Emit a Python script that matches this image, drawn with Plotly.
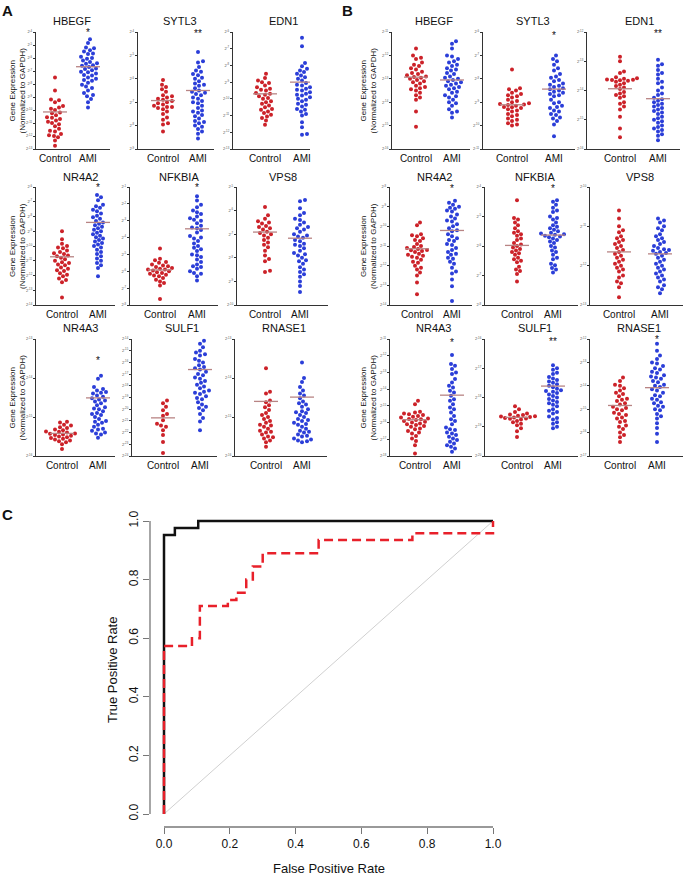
import plotly.graph_objects as go

W, H = 685, 875
FONT = "Liberation Sans, Arial, sans-serif"
RED = "#cc2229"
BLUE = "#2b3ed8"
MEAN_COL = "#b88484"

# ---- gene expression values (log2 units above the lowest tick of each panel) ----
# panel A
a_hbegf_ctrl = [5.5, 4.5, 3.8, 3.75, 3.6, 3.3, 3.2, 3.1, 3.0, 2.8, 2.75, 2.6, 2.45, 2.4, 2.3, 2.2, 2.1, 2.0, 1.9, 1.75, 1.55, 1.4, 1.35, 1.15, 1.05, 1.0, 0.9, 0.65, 0.25]
a_hbegf_ami = [8.45, 8.15, 7.8, 7.75, 7.6, 7.5, 7.35, 7.3, 7.1, 7.0, 6.95, 6.8, 6.7, 6.6, 6.55, 6.45, 6.4, 6.3, 6.2, 6.15, 6.05, 5.95, 5.9, 5.8, 5.7, 5.65, 5.5, 5.4, 5.3, 5.25, 5.1, 4.95, 4.8, 4.7, 4.5, 4.3, 4.15, 4.05, 3.85, 3.6, 3.2]
a_sytl3_ctrl = [2.95, 2.75, 2.65, 2.55, 2.45, 2.3, 2.25, 2.2, 2.15, 2.1, 2.05, 2.0, 1.95, 1.9, 1.85, 1.8, 1.8, 1.75, 1.7, 1.6, 1.5, 1.35, 1.25, 1.1, 1.05, 0.75]
a_sytl3_ami = [4.15, 3.75, 3.7, 3.35, 3.3, 3.15, 3.05, 3.0, 2.9, 2.8, 2.7, 2.6, 2.5, 2.45, 2.35, 2.3, 2.2, 2.15, 2.05, 1.95, 1.85, 1.75, 1.65, 1.55, 1.45, 1.3, 1.2, 1.1, 1.0, 0.95, 0.85, 0.65, 0.45,
               3.5, 3.2, 2.75, 2.4, 2.0, 1.6, 1.4, 1.15, 0.75]
a_edn1_ctrl = [4.5, 4.25, 4.1, 3.95, 3.8, 3.7, 3.6, 3.5, 3.35, 3.25, 3.15, 3.0, 2.85, 2.7, 2.6, 2.5, 2.35, 2.25, 2.15, 1.95, 1.85, 1.7, 1.45,
               4.0, 3.55, 3.3, 3.05, 2.8, 2.4, 2.05]
a_edn1_ami = [6.65, 6.15, 5.15, 4.95, 4.7, 4.6, 4.5, 4.3, 4.2, 4.1, 4.0, 3.95, 3.8, 3.7, 3.6, 3.5, 3.4, 3.3, 3.2, 3.1, 3.0, 2.85, 2.7, 2.55, 2.4, 2.25, 2.1, 1.3, 0.9, 0.85,
              4.8, 4.4, 3.85, 3.55, 3.25, 2.95, 2.65, 2.35, 2.0, 1.6]
a_nr4a2_ctrl = [5.0, 4.45, 4.15, 4.0, 3.9, 3.85, 3.7, 3.6, 3.5, 3.45, 3.35, 3.3, 3.2, 3.1, 3.0, 2.9, 2.85, 2.75, 2.7, 2.55, 2.45, 2.35, 2.3, 2.15, 2.05, 1.95, 1.8, 1.7, 1.55, 0.5]
a_nr4a2_ami = [7.45, 7.3, 7.1, 6.8, 6.7, 6.6, 6.45, 6.35, 6.2, 6.05, 5.95, 5.85, 5.7, 5.6, 5.5, 5.4, 5.3, 5.2, 5.1, 5.0, 4.9, 4.8, 4.7, 4.6, 4.5, 4.4, 4.3, 4.2, 4.1, 4.0, 3.9, 3.75, 3.6, 3.45, 3.3, 3.15, 3.0, 2.85, 2.7, 2.5, 1.95]
a_nfkbia_ctrl = [3.35, 2.75, 2.65, 2.55, 2.5, 2.4, 2.35, 2.3, 2.25, 2.2, 2.15, 2.1, 2.1, 2.05, 2.0, 1.95, 1.9, 1.85, 1.8, 1.75, 1.7, 1.6, 1.5, 1.4, 1.3, 1.15, 0.35]
a_nfkbia_ami = [6.45, 6.2, 5.95, 5.6, 5.5, 5.4, 5.25, 5.15, 5.0, 4.85, 4.7, 4.6, 4.45, 4.3, 4.1, 3.95, 3.8, 3.65, 3.5, 3.3, 3.2, 3.0, 2.85, 2.7, 2.55, 2.4, 2.3, 2.15, 2.0, 1.85, 1.7, 1.45,
                5.8, 5.05, 4.55, 4.0, 3.4, 2.95, 2.25, 1.9]
a_vps8_ctrl = [4.15, 3.8, 3.65, 3.55, 3.5, 3.45, 3.35, 3.3, 3.25, 3.2, 3.1, 3.05, 3.0, 2.95, 2.85, 2.75, 2.65, 2.55, 2.45, 2.3, 2.1, 1.95, 1.85, 1.45, 1.4]
a_vps8_ami = [4.45, 4.4, 4.1, 3.9, 3.8, 3.6, 3.5, 3.4, 3.3, 3.2, 3.1, 3.0, 2.95, 2.85, 2.75, 2.7, 2.6, 2.5, 2.4, 2.3, 2.2, 2.1, 2.0, 1.9, 1.75, 1.6, 1.5, 1.4, 1.3, 1.0, 0.8, 0.55,
              3.65, 3.25, 2.9, 2.55, 2.15, 1.85, 1.2]
a_nr4a3_ctrl = [0.88, 0.86, 0.8, 0.78, 0.74, 0.72, 0.68, 0.66, 0.63, 0.62, 0.6, 0.58, 0.57, 0.55, 0.54, 0.52, 0.5, 0.48, 0.46, 0.44, 0.42, 0.4, 0.38, 0.35, 0.3, 0.18]
a_nr4a3_ami = [2.06, 1.98, 1.77, 1.72, 1.68, 1.64, 1.6, 1.55, 1.52, 1.48, 1.45, 1.4, 1.35, 1.3, 1.25, 1.2, 1.15, 1.1, 1.05, 1.0, 0.95, 0.9, 0.85, 0.8, 0.75, 0.7, 0.65, 0.6, 0.55, 0.47,
               1.62, 1.42, 1.22, 1.08, 0.88, 0.68, 0.58]
a_sulf1_ctrl = [4.75, 4.5, 4.2, 3.9, 3.6, 3.45, 3.05, 2.75, 2.6, 2.5, 2.2, 1.8, 1.2, 0.25]
a_sulf1_ami = [9.85, 9.3, 9.0, 8.7, 8.6, 8.3, 8.0, 7.75, 7.5, 7.4, 7.2, 6.9, 6.7, 6.6, 6.4, 6.1, 5.95, 5.8, 5.6, 5.4, 5.3, 5.1, 4.85, 4.6, 4.4, 4.2, 3.9, 3.6, 3.25, 2.95, 2.2,
               9.6, 8.85, 8.15, 7.6, 7.0, 6.25, 5.5, 4.95, 4.1]
a_rnase1_ctrl = [2.25, 1.65, 1.6, 1.42, 1.38, 1.25, 1.18, 1.1, 1.05, 0.95, 0.9, 0.85, 0.8, 0.75, 0.7, 0.65, 0.6, 0.55, 0.5, 0.45, 0.4, 0.35, 0.24,
                 1.3, 1.0, 0.78, 0.62, 0.48]
a_rnase1_ami = [2.4, 2.0, 1.9, 1.77, 1.68, 1.55, 1.48, 1.4, 1.32, 1.26, 1.2, 1.15, 1.1, 1.05, 1.0, 0.95, 0.9, 0.85, 0.8, 0.75, 0.7, 0.65, 0.6, 0.55, 0.5, 0.45, 0.4, 0.35,
                1.6, 1.35, 1.12, 0.92, 0.82, 0.62, 0.52, 0.42, 0.38]

# panel B
b_hbegf_ctrl = [4.3, 4.0, 3.9, 3.7, 3.55, 3.4, 3.3, 3.2, 3.15, 3.05, 3.0, 2.95, 2.9, 2.8, 2.7, 2.6, 2.5, 2.4, 2.3, 2.1, 1.6, 0.95,
                3.85, 3.6, 3.45, 3.25, 3.1, 3.08, 2.85, 2.65, 2.55, 2.2]
b_hbegf_ami = [4.6, 4.5, 4.0, 3.85, 3.7, 3.55, 3.4, 3.35, 3.2, 3.1, 3.0, 2.95, 2.85, 2.75, 2.65, 2.55, 2.45, 2.3, 2.2, 2.1, 2.0, 1.85, 1.7, 1.55, 1.35,
               4.3, 3.95, 3.75, 3.6, 3.45, 3.25, 3.05, 2.9, 2.8, 2.7, 2.6, 2.4, 2.25, 1.95, 1.6]
b_sytl3_ctrl = [3.4, 2.6, 2.5, 2.4, 2.3, 2.2, 2.1, 2.0, 1.95, 1.9, 1.85, 1.8, 1.75, 1.7, 1.6, 1.5, 1.4, 1.3, 1.2, 1.1, 1.0,
                2.55, 2.35, 2.25, 2.05, 1.92, 1.88, 1.78, 1.65, 1.45, 1.25, 1.05]
b_sytl3_ami = [4.0, 3.75, 3.6, 3.35, 3.2, 3.05, 2.9, 2.75, 2.65, 2.55, 2.45, 2.35, 2.25, 2.1, 1.95, 1.85, 1.75, 1.65, 1.5, 1.35, 1.2, 0.55,
               3.85, 3.45, 3.1, 2.95, 2.8, 2.7, 2.6, 2.5, 2.4, 2.3, 2.0, 1.8, 1.6, 1.45, 1.3, 1.05]
b_edn1_ctrl = [3.15, 3.0, 2.65, 2.45, 2.4, 2.38, 2.36, 2.35, 2.33, 2.3, 2.25, 2.15, 2.05, 1.95, 1.85, 1.75, 1.6, 1.45, 1.35, 0.7, 0.4,
               2.6, 2.42, 2.37, 2.2, 2.1, 1.9, 1.8, 1.55, 1.1]
b_edn1_ami = [3.05, 2.9, 2.7, 2.55, 2.4, 2.25, 2.1, 1.9, 1.75, 1.7, 1.6, 1.5, 1.4, 1.3, 1.2, 1.1, 1.0, 0.9, 0.8, 0.7, 0.6, 0.5, 0.3,
              2.85, 2.6, 2.3, 2.0, 1.85, 1.65, 1.55, 1.45, 1.35, 1.25, 1.05, 0.95, 0.75, 0.65, 0.45]
b_nr4a2_ctrl = [4.2, 4.05, 3.6, 3.5, 3.4, 3.25, 3.1, 2.95, 2.85, 2.8, 2.75, 2.6, 2.5, 2.4, 2.3, 2.15, 2.0, 1.8, 1.65, 1.15, 0.55,
                3.55, 3.3, 3.0, 2.9, 2.78, 2.7, 2.55, 2.45, 2.2, 1.9, 1.5]
b_nr4a2_ami = [5.3, 5.1, 5.0, 4.9, 4.75, 4.6, 4.4, 4.25, 4.1, 3.9, 3.75, 3.6, 3.4, 3.25, 3.05, 2.9, 2.7, 2.55, 2.35, 2.1, 1.9, 1.6, 0.95, 0.2,
               5.2, 4.95, 4.8, 4.5, 4.3, 4.0, 3.8, 3.5, 3.3, 3.1, 2.8, 2.6, 2.4, 2.2, 1.7, 1.3]
b_nfkbia_ctrl = [3.55, 2.95, 2.9, 2.7, 2.6, 2.45, 2.35, 2.2, 2.1, 2.0, 1.9, 1.8, 1.7, 1.55, 1.45, 1.3, 1.15, 0.8,
                 2.8, 2.5, 2.4, 2.25, 2.05, 1.95, 1.85, 1.75, 1.6, 1.5, 1.2, 1.05]
b_nfkbia_ami = [3.55, 3.5, 3.3, 3.15, 3.0, 2.9, 2.8, 2.65, 2.55, 2.5, 2.4, 2.35, 2.3, 2.2, 2.1, 2.0, 1.85, 1.7, 1.55, 1.4, 1.25, 1.1,
                3.4, 3.2, 2.95, 2.7, 2.6, 2.45, 2.42, 2.38, 2.32, 2.25, 2.15, 1.95, 1.8, 1.6, 1.35, 1.2]
b_vps8_ctrl = [2.4, 2.2, 1.9, 1.85, 1.7, 1.6, 1.5, 1.45, 1.35, 1.3, 1.2, 1.1, 1.0, 0.95, 0.85, 0.75, 0.6, 0.45, 0.2,
               2.0, 1.75, 1.65, 1.55, 1.4, 1.25, 1.15, 1.05, 0.9, 0.7, 0.55]
b_vps8_ami = [2.2, 2.15, 2.0, 1.9, 1.75, 1.65, 1.55, 1.45, 1.4, 1.35, 1.3, 1.2, 1.1, 1.0, 0.95, 0.85, 0.75, 0.65, 0.5, 0.3,
              2.1, 1.95, 1.8, 1.7, 1.6, 1.5, 1.42, 1.38, 1.32, 1.25, 1.15, 1.05, 0.9, 0.8, 0.7, 0.6, 0.45, 0.4]
b_nr4a3_ctrl = [3.3, 3.1, 2.65, 2.55, 2.45, 2.35, 2.25, 2.2, 2.15, 2.05, 1.95, 1.85, 1.75, 1.6, 1.5, 1.35, 1.2, 1.05, 0.65, 0.15,
                2.6, 2.5, 2.4, 2.3, 2.22, 2.1, 2.0, 1.9, 1.8, 1.65, 1.4, 0.9]
b_nr4a3_ami = [6.05, 5.5, 5.4, 5.2, 4.9, 4.6, 4.2, 4.1, 3.9, 3.6, 3.4, 3.1, 2.8, 2.6, 2.4, 2.1, 1.9, 1.7, 1.55, 1.4, 1.25, 1.05, 0.85, 0.55, 0.25,
               5.0, 4.4, 3.8, 3.3, 2.9, 2.2, 1.6, 1.35, 1.15, 0.95, 0.75, 0.65, 0.45]
b_sulf1_ctrl = [1.7, 1.6, 1.5, 1.42, 1.38, 1.35, 1.32, 1.3, 1.27, 1.2, 1.15, 1.05, 0.95, 0.65,
                1.45, 1.4, 1.36, 1.33, 1.28, 1.25, 1.1, 0.85]
b_sulf1_ami = [3.1, 2.95, 2.85, 2.7, 2.55, 2.45, 2.35, 2.25, 2.2, 2.15, 2.05, 1.95, 1.85, 1.75, 1.6, 1.5, 1.35, 1.25, 1.1, 0.95,
               3.0, 2.8, 2.65, 2.6, 2.5, 2.4, 2.3, 2.22, 2.1, 2.0, 1.9, 1.8, 1.7, 1.55, 1.45, 1.3, 1.15, 1.0]
b_rnase1_ctrl = [3.35, 3.05, 3.0, 2.8, 2.65, 2.45, 2.35, 2.2, 2.05, 2.0, 1.85, 1.75, 1.6, 1.45, 1.3, 1.15, 1.0, 0.8, 0.6,
                 3.2, 2.9, 2.7, 2.55, 2.4, 2.25, 2.1, 1.95, 1.8, 1.65, 1.5, 1.25, 0.9]
b_rnase1_ami = [4.8, 4.5, 4.15, 4.0, 3.85, 3.7, 3.55, 3.4, 3.3, 3.15, 3.0, 2.85, 2.7, 2.55, 2.4, 2.25, 2.1, 1.95, 1.8, 1.6, 1.4, 0.95, 0.6,
                4.3, 3.95, 3.75, 3.6, 3.45, 3.35, 3.2, 3.05, 2.95, 2.8, 2.6, 2.45, 2.3, 2.15, 2.0, 1.7, 1.2]

genes = ["HBEGF", "SYTL3", "EDN1", "NR4A2", "NFKBIA", "VPS8", "NR4A3", "SULF1", "RNASE1"]
groups = ["Control", "AMI"]

# number of tick intervals and exponent of the lowest tick
n_int_a = [9, 5, 7, 8, 7, 5, 3, 10, 3]
n_int_b = [5, 5, 4, 6, 4, 3, 7, 4, 5]
base_exp_a = [-13, -9, -13, -14, -8, -10, -16, -24, -16]
base_exp_b = [-16, -11, -16, -14, -8, -13, -18, -20, -17]

# group means (horizontal bars)
mean_ctrl_a = [2.85, 2.07, 3.3, 3.27, 2.08, 3.09, 0.58, 3.26, 1.4]
mean_ami_a = [6.33, 2.5, 4.0, 5.6, 4.52, 2.83, 1.49, 7.39, 1.51]
mean_ctrl_b = [3.07, 1.89, 2.06, 2.86, 2.02, 1.35, 2.17, 1.32, 2.16]
mean_ami_b = [2.95, 2.56, 1.72, 3.79, 2.37, 1.3, 3.64, 2.39, 2.92]

stars_a = ["*", "**", "", "*", "*", "", "*", "*", ""]
stars_b = ["", "*", "**", "*", "*", "", "*", "**", "*"]
star_y_a = [8.95, 4.95, 0, 7.95, 6.95, 0, 2.45, 10.45, 0]
star_y_b = [0, 4.85, 3.95, 5.9, 3.95, 0, 6.8, 3.9, 5.0]

ctrl_a = [a_hbegf_ctrl, a_sytl3_ctrl, a_edn1_ctrl, a_nr4a2_ctrl, a_nfkbia_ctrl, a_vps8_ctrl, a_nr4a3_ctrl, a_sulf1_ctrl, a_rnase1_ctrl]
ami_a = [a_hbegf_ami, a_sytl3_ami, a_edn1_ami, a_nr4a2_ami, a_nfkbia_ami, a_vps8_ami, a_nr4a3_ami, a_sulf1_ami, a_rnase1_ami]
ctrl_b = [b_hbegf_ctrl, b_sytl3_ctrl, b_edn1_ctrl, b_nr4a2_ctrl, b_nfkbia_ctrl, b_vps8_ctrl, b_nr4a3_ctrl, b_sulf1_ctrl, b_rnase1_ctrl]
ami_b = [b_hbegf_ami, b_sytl3_ami, b_edn1_ami, b_nr4a2_ami, b_nfkbia_ami, b_vps8_ami, b_nr4a3_ami, b_sulf1_ami, b_rnase1_ami]

# ROC curves
roc_fpr_1 = [0.0, 0.0, 0.033, 0.104, 1.0]
roc_tpr_1 = [0.0, 0.952, 0.976, 1.0, 1.0]
roc_fpr_2 = [0.0, 0.0, 0.085, 0.109, 0.194, 0.22, 0.25, 0.27, 0.3, 0.47, 0.755, 1.0, 1.0]
roc_tpr_2 = [0.0, 0.573, 0.60, 0.71, 0.73, 0.755, 0.80, 0.845, 0.89, 0.935, 0.958, 0.958, 1.0]
roc_ticks = [0.0, 0.2, 0.4, 0.6, 0.8, 1.0]

# ---- layout in window pixels ----
rows_y = [(32, 149), (187, 305), (339, 456)]
title_y = [21, 177, 328]
# (axis left, axis right, control centre, AMI centre)
cols_a = [[(36, 110, 55, 88), (138, 214, 163, 198), (233, 310, 265, 302)],
          [(36, 115, 62, 98), (130, 218, 160, 197), (237, 328, 265, 300)],
          [(36, 115, 62, 98), (132, 217, 163, 200), (235, 327, 266, 302)]]
cols_b = [[(392, 470, 416, 452), (483, 575, 512, 554), (587, 680, 620, 658)],
          [(390, 472, 417, 452), (485, 578, 517, 553), (590, 683, 619, 660)],
          [(390, 472, 415, 452), (485, 578, 517, 553), (590, 683, 620, 657)]]


def fx(p):
    return p / W


def fy(p):
    return 1 - p / H


def swarm(vals, n, h_px, d=4.2):
    ys = [v / n * h_px for v in vals]
    order = sorted(range(len(vals)), key=lambda i: ys[i])
    placed = []
    offs = [0.0] * len(vals)
    for i in order:
        y = ys[i]
        k = 0
        while True:
            cands = [0.0] if k == 0 else [k * 1.0, -k * 1.0]
            ok = None
            for c in cands:
                if all((c - px) ** 2 + (y - py) ** 2 >= d * d for px, py in placed):
                    ok = c
                    break
            if ok is not None:
                break
            k += 1
        placed.append((ok, y))
        offs[i] = ok
    return offs


def note(text, px, py, size, angle=0, bold=False):
    return dict(x=fx(px), y=fy(py), xref="paper", yref="paper", xanchor="center", yanchor="middle",
                text="<b>%s</b>" % text if bold else text, textangle=angle, showarrow=False,
                font=dict(size=size, color="#111", family=FONT))


fig = go.Figure()
layout = {}
annotations = []
shapes = []
idx = 0

for panel, cols, ctrls, amis, nints, bases, mc, ma, stars, stys in [
        ("A", cols_a, ctrl_a, ami_a, n_int_a, base_exp_a, mean_ctrl_a, mean_ami_a, stars_a, star_y_a),
        ("B", cols_b, ctrl_b, ami_b, n_int_b, base_exp_b, mean_ctrl_b, mean_ami_b, stars_b, star_y_b)]:
    for g in range(9):
        idx += 1
        r, c = divmod(g, 3)
        xl, xr, xc, xa = cols[r][c]
        yt, yb = rows_y[r]
        ppu = xa - xc
        n = nints[g]
        xs = "x" if idx == 1 else "x%d" % idx
        ys = "y" if idx == 1 else "y%d" % idx
        xk = "xaxis" if idx == 1 else "xaxis%d" % idx
        yk = "yaxis" if idx == 1 else "yaxis%d" % idx
        layout[xk] = dict(domain=[fx(xl), fx(xr)], range=[(xl - xc) / ppu, (xr - xc) / ppu],
                          anchor=ys, tickvals=[0, 1], ticktext=groups, ticks="", automargin=False,
                          showline=True, linecolor="#333", linewidth=1, showgrid=False,
                          zeroline=False, tickfont=dict(size=10, color="#111", family=FONT),
                          fixedrange=True)
        layout[yk] = dict(domain=[fy(yb), fy(yt)], range=[0, n], anchor=xs,
                          tickvals=list(range(n + 1)), automargin=False,
                          ticktext=["2<sup>%d</sup>" % (bases[g] + k) for k in range(n + 1)],
                          ticks="outside", ticklen=2, tickwidth=1, tickcolor="#333",
                          showline=True, linecolor="#333", linewidth=1, showgrid=False,
                          zeroline=False, tickfont=dict(size=4, color="#555", family=FONT),
                          fixedrange=True)
        h_px = yb - yt
        for grp, vals, col in [(0, ctrls[g], RED), (1, amis[g], BLUE)]:
            offs = swarm(vals, n, h_px)
            fig.add_trace(go.Scatter(x=[grp + o / ppu for o in offs], y=vals, mode="markers",
                                     marker=dict(color=col, size=4, line=dict(width=0)),
                                     xaxis=xs, yaxis=ys, cliponaxis=False, showlegend=False))
        half = 12 / ppu
        for grp, m in [(0, mc[g]), (1, ma[g])]:
            fig.add_trace(go.Scatter(x=[grp - half, grp + half], y=[m, m], mode="lines",
                                     line=dict(color=MEAN_COL, width=1.3),
                                     xaxis=xs, yaxis=ys, showlegend=False))
        annotations.append(note(genes[g], (xc + xa) / 2, title_y[r], 11))
        if stars[g]:
            annotations.append(dict(x=1, y=stys[g], xref=xs, yref=ys, text=stars[g],
                                    showarrow=False, xanchor="center", yanchor="middle",
                                    font=dict(size=10, color="#111", family=FONT)))
    xlab = 17 if panel == "A" else 368
    for r in range(3):
        yt, yb = rows_y[r]
        annotations.append(note("Gene Expression<br>(Normalized to GAPDH)", xlab, (yt + yb) / 2, 8, angle=-90))

# ---- ROC panel ----
idx += 1
rx0, rx1 = 164, 493   # pixel of fpr 0 and 1
ry0, ry1 = 814, 521   # pixel of tpr 0 and 1
sx = rx1 - rx0
sy = ry0 - ry1
xlo = (150 - rx0) / sx
ylo = (ry0 - 827) / sy
xs, ys = "x%d" % idx, "y%d" % idx
layout["xaxis%d" % idx] = dict(domain=[fx(150), fx(rx0 + 1.02 * sx)], range=[xlo, 1.02],
                                anchor=ys, tickvals=roc_ticks, ticktext=["%.1f" % t for t in roc_ticks],
                                ticks="outside", ticklen=6, tickwidth=1.3, tickcolor="#777",
                                showline=False, showgrid=False, zeroline=False, automargin=False,
                                tickfont=dict(size=12, color="#111", family=FONT), fixedrange=True)
layout["yaxis%d" % idx] = dict(domain=[fy(827), fy(ry0 - 1.02 * sy)], range=[ylo, 1.02],
                                anchor=xs, tickvals=roc_ticks, ticktext=["%.1f" % t for t in roc_ticks],
                                ticks="outside", ticklen=6, tickwidth=1.3, tickcolor="#777",
                                tickangle=-90, showline=False, showgrid=False, zeroline=False,
                                automargin=False,
                                tickfont=dict(size=12, color="#111", family=FONT), fixedrange=True)
fig.add_trace(go.Scatter(x=[0, 1], y=[0, 1], mode="lines", line=dict(color="#d0d0d0", width=1),
                         xaxis=xs, yaxis=ys, showlegend=False))
fig.add_trace(go.Scatter(x=roc_fpr_1, y=roc_tpr_1, mode="lines", line=dict(color="#111", width=2.5, shape="hv"),
                         xaxis=xs, yaxis=ys, showlegend=False, cliponaxis=False))
fig.add_trace(go.Scatter(x=roc_fpr_2, y=roc_tpr_2, mode="lines",
                         line=dict(color="#e8202a", width=2.5, shape="hv", dash="9px,5px"),
                         xaxis=xs, yaxis=ys, showlegend=False, cliponaxis=False))
shapes.append(dict(type="line", xref="paper", yref=ys, x0=fx(150), x1=fx(150), y0=0, y1=1,
                   line=dict(color="#777", width=1.3)))
shapes.append(dict(type="line", xref=xs, yref="paper", x0=0, x1=1, y0=fy(827), y1=fy(827),
                   line=dict(color="#777", width=1.3)))
annotations.append(note("False Positive Rate", (rx0 + rx1) / 2, 868, 13))
annotations.append(note("True Positive Rate", 112, 670, 13, angle=-90))

# panel letters
for letter, px, py in [("A", 8, 10), ("B", 348, 10), ("C", 8, 514)]:
    annotations.append(note(letter, px, py, 15, bold=True))

fig.update_layout(**layout)
fig.update_layout(width=W, height=H, autosize=False, margin=dict(l=0, r=0, t=0, b=0, autoexpand=False),
                  plot_bgcolor="white", paper_bgcolor="white",
                  annotations=annotations, shapes=shapes, showlegend=False)
# drop the default 8px page margin so the figure fills the window exactly
fig.write_html("out.html", config={"displayModeBar": False},
               post_script="document.body.style.margin='0px';")
